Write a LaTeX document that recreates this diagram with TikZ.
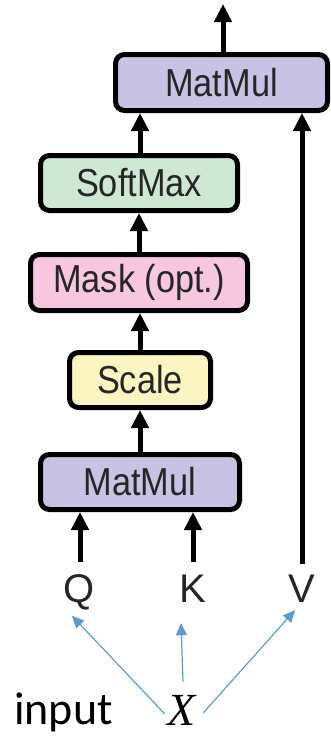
\documentclass[tikz,border=0pt]{standalone}
\usepackage{fontspec}
\setmainfont{Liberation Sans}
\newfontfamily\boxfont{Liberation Sans}[FakeStretch=0.88]
\newfontfamily\calib{Carlito}
\newfontfamily\serifx{Liberation Serif}
\usetikzlibrary{arrows.meta,calc}
\definecolor{mmcol}{HTML}{C8C2E4}
\definecolor{smcol}{HTML}{CFE8D4}
\definecolor{mkcol}{HTML}{F6C7DF}
\definecolor{sccol}{HTML}{FBF5C2}
\definecolor{bluec}{HTML}{5B9BD5}
\definecolor{txtc}{HTML}{262626}
\begin{document}
\begin{tikzpicture}[x=1pt,y=-1pt,
  blk/.style={draw=black, line width=5pt, rounded corners=9pt, inner sep=0pt,
    font=\boxfont\fontsize{39}{42}\selectfont, text=txtc},
  arr/.style={line width=5pt, -{Triangle[length=18pt,width=17pt]}},
  barr/.style={draw=bluec, line width=1.2pt, -{Triangle[length=12pt,width=11pt]}, bluec},
  lbl/.style={font=\fontsize{40}{42}\selectfont, inner sep=0pt, text=txtc, anchor=base}]
\useasboundingbox (0,0) rectangle (331,736);
\node[blk, fill=mmcol, minimum width=212pt, minimum height=56pt] (mm2) at (221.5,82.5) {MatMul};
\node[blk, fill=smcol, minimum width=197pt, minimum height=55pt] (sm) at (139,183) {SoftMax};
\node[blk, fill=mkcol, minimum width=217pt, minimum height=56pt] (mask) at (139,282.5) {Mask (opt.)};
\node[blk, fill=sccol, minimum width=141pt, minimum height=55pt] (scale) at (140,380) {Scale};
\node[blk, fill=mmcol, minimum width=199pt, minimum height=55pt] (mm1) at (140,482) {MatMul};
\coordinate (out) at (223,4);
\node[lbl] (Q) at (79,602) {Q};
\node[lbl] (K) at (193,602) {K};
\node[lbl] (V) at (302,602) {V};
\node[font=\calib\fontsize{46}{46}\selectfont, anchor=base west, inner sep=0pt] (inp) at (14,724) {input};
\node[font=\serifx\itshape\fontsize{46}{46}\selectfont, anchor=base, inner sep=0pt] (X) at (182,725) {X};
% shaft starts
\coordinate (qs) at ($(Q.north |- 0,562)+(1,0)$);
\coordinate (ks) at (K.north |- 0,562);
\coordinate (vs) at (V.north |- 0,564);
% black arrows
\draw[arr] (mm1.north) -- (mm1.north |- scale.south);
\draw[arr] (scale.north) -- (scale.north |- mask.south);
\draw[arr] (mask.north) -- (mask.north |- sm.south);
\draw[arr] ([xshift=1pt]sm.north) -- ([xshift=1pt]sm.north |- mm2.south);
\draw[arr] (mm2.north -| out) -- (out);
\draw[arr] (qs) -- (qs |- mm1.south);
\draw[arr] (ks) -- (ks |- mm1.south);
\draw[arr] (vs) -- (vs |- mm2.south);
% blue arrows
\coordinate (xl) at ($(X.west)+(-3,4)$);
\coordinate (xm) at ($(X.north)+(1,-13)$);
\coordinate (xr) at ($(X.east)+(7,3)$);
\draw[barr] (xl) -- ($(Q.south)+(-7,6)$);
\draw[barr] (xm) -- ($(K.south)+(-12,21)$);
\draw[barr] (xr) -- ($(V.south)+(-7,8)$);
\end{tikzpicture}
\end{document}
